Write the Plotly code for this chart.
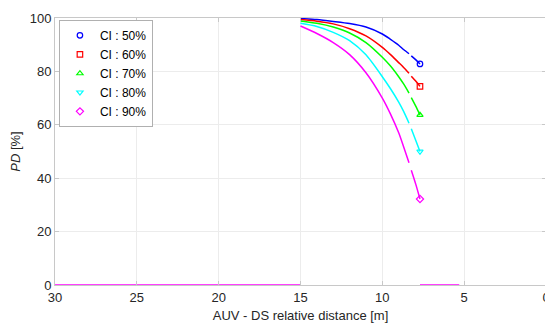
import plotly.graph_objects as go

# distance [m] sample points (None = gap in the drawn curve)
dist = [15, 14, 13, 12, 11, 10, 9.5, 9, 8.7, 8.37, None, 8.23, 7.95, 7.7]

pd_50 = [99.8, 99.4, 98.7, 97.9, 96.6, 94.0, 92.0, 89.8, 88.2, 86.6, None, 85.8, 84.3, 82.8]
pd_60 = [99.4, 98.8, 97.8, 96.0, 93.3, 89.0, 86.3, 83.3, 81.5, 79.3, None, 78.2, 76.3, 74.4]
pd_70 = [98.9, 98.0, 96.6, 94.4, 90.8, 85.3, 82.0, 78.0, 75.3, 71.9, None, 70.2, 66.9, 63.7]
pd_80 = [98.0, 96.8, 94.6, 91.5, 86.2, 78.0, 73.5, 68.5, 65.0, 60.6, None, 58.5, 54.0, 50.0]
pd_90 = [97.0, 94.2, 90.8, 86.3, 79.5, 70.0, 64.0, 57.0, 51.8, 45.8, None, 43.0, 37.6, 32.2]

# zero-PD segments
zero_dist = [30, 15, None, 7.7, 5.3]
zero_pd = [0, 0, None, 0, 0]

labels = ["CI : 50%", "CI : 60%", "CI : 70%", "CI : 80%", "CI : 90%"]
series = [pd_50, pd_60, pd_70, pd_80, pd_90]
colors = ["#0000ff", "#ff0000", "#00ff00", "#00ffff", "#ff00ff"]
symbols = ["circle-open", "square-open", "triangle-up-open", "triangle-down-open", "diamond-open"]

x_ticks = [0, 5, 10, 15, 20, 25, 30]
y_ticks = [0, 20, 40, 60, 80, 100]

fig = go.Figure()

for lab, ys, c, s in zip(labels, series, colors, symbols):
    fig.add_trace(go.Scatter(x=dist, y=ys, mode="lines",
                             line=dict(color=c, width=1.5, shape="spline", smoothing=0.7),
                             connectgaps=False, showlegend=False, hoverinfo="skip"))

fig.add_trace(go.Scatter(x=zero_dist, y=zero_pd, mode="lines",
                         line=dict(color=colors[-1], width=1.6),
                         connectgaps=False, showlegend=False))

for lab, ys, c, s in zip(labels, series, colors, symbols):
    fig.add_trace(go.Scatter(x=[dist[-1]], y=[ys[-1]], mode="markers", name=lab,
                             marker=dict(symbol=s, color=c, size=5.5,
                                         line=dict(color=c, width=1.2))))

axis_common = dict(showline=True, linecolor="#c8c8c8", linewidth=1, mirror="ticks",
                   ticks="inside", ticklen=4, tickcolor="#c8c8c8",
                   showgrid=True, gridcolor="#ececec", gridwidth=1, zeroline=False,
                   ticklabeloverflow="allow",
                   tickfont=dict(family="Liberation Sans, Arial, sans-serif", size=13, color="#262626"))

fig.update_layout(
    width=545, height=320,
    margin=dict(l=43, r=3, t=5, b=43),
    paper_bgcolor="white", plot_bgcolor="white",
    font=dict(family="Liberation Sans, Arial, sans-serif", color="#262626"),
    xaxis=dict(range=[30, 0], tickvals=x_ticks,
               title=dict(text="AUV - DS relative distance [m]", font=dict(size=13), standoff=7),
               **axis_common),
    yaxis=dict(range=[0, 100], tickvals=y_ticks,
               title=dict(text="<i>PD</i> [%]", font=dict(size=13), standoff=10),
               **axis_common),
    legend=dict(x=0.008, y=0.993, xanchor="left", yanchor="top",
                bgcolor="white", bordercolor="#b0b0b0", borderwidth=1,
                font=dict(size=12, color="#000000"), itemwidth=30,
                tracegroupgap=0),
    showlegend=True,
)

fig.write_html("out.html")
